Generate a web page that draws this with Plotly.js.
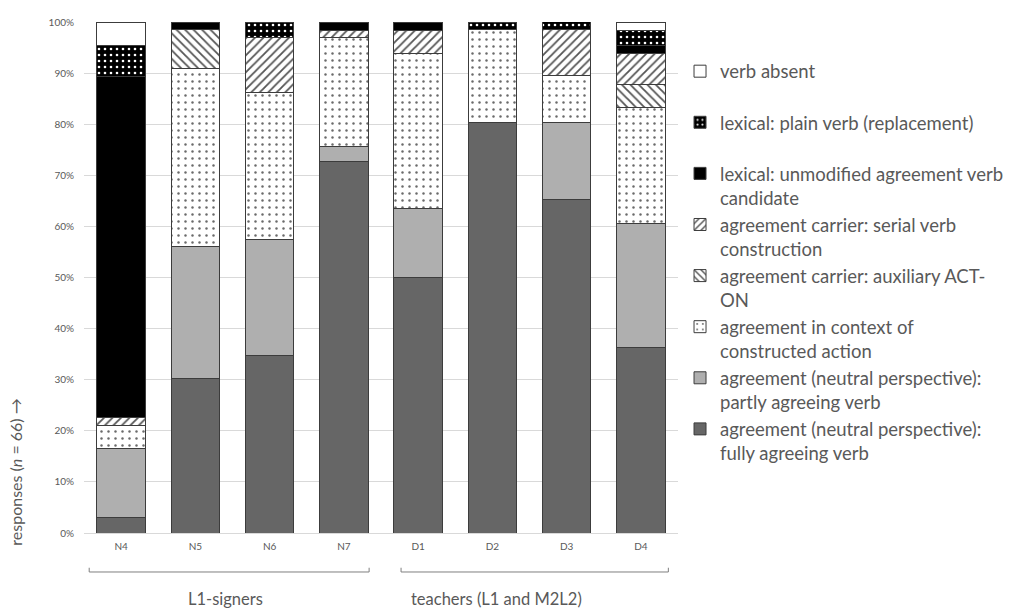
<!DOCTYPE html>
<html>
<head>
<meta charset="utf-8">
<script src="https://cdn.plot.ly/plotly-3.0.1.min.js"></script>
<style>
html,body{margin:0;padding:0;background:#fff;}
#chart{width:1025px;height:608px;}
</style>
</head>
<body>
<div id="chart"></div>
<script>
// categories (informants)
const participants = ["N4", "N5", "N6", "N7", "D1", "D2", "D3", "D4"];

// percentages of responses (n = 66)
const fullyAgreeing   = [3.0, 30.3, 34.8, 72.7, 50.0, 80.3, 65.2, 36.4];
const partlyAgreeing  = [13.6, 25.8, 22.7, 3.0, 13.6, 0, 15.2, 24.2];
const constructedAct  = [4.5, 34.8, 28.8, 21.2, 30.3, 18.2, 9.1, 22.7];
const auxiliaryActOn  = [0, 7.6, 0, 0, 0, 0, 0, 4.5];
const serialVerb      = [1.5, 0, 10.6, 1.5, 4.5, 0, 9.1, 6.1];
const unmodifiedVerb  = [66.7, 1.5, 0, 1.5, 1.5, 0, 0, 1.5];
const plainVerb       = [6.1, 0, 3.0, 0, 0, 1.5, 1.5, 3.0];
const verbAbsent      = [4.5, 0, 0, 0, 0, 0, 0, 1.5];

const seriesNames = [
  "agreement (neutral perspective):<br>fully agreeing verb",
  "agreement (neutral perspective):<br>partly agreeing verb",
  "agreement in context of<br>constructed action",
  "agreement carrier: auxiliary ACT-<br>ON",
  "agreement carrier: serial verb<br>construction",
  "lexical: unmodified agreement verb<br>candidate",
  "lexical: plain verb (replacement)<br>&nbsp;",
  "verb absent<br>&nbsp;"
];

const groupLabels = ["L1-signers", "teachers (L1 and M2L2)"];
const yTitle = "responses (<i>n</i> = 66) →";

const seriesValues = [fullyAgreeing, partlyAgreeing, constructedAct, auxiliaryActOn,
                      serialVerb, unmodifiedVerb, plainVerb, verbAbsent];

const styles = [
  {color: "#666666"},
  {color: "#afafaf"},
  {color: "#ffffff", pattern: {shape: ".", bgcolor: "#ffffff", fgcolor: "#6a6a6a", size: 7, solidity: 0.1, fillmode: "replace"}},
  {color: "#ffffff", pattern: {shape: "\\", bgcolor: "#ffffff", fgcolor: "#555555", size: 6, solidity: 0.3, fillmode: "replace"}},
  {color: "#ffffff", pattern: {shape: "/", bgcolor: "#ffffff", fgcolor: "#555555", size: 6, solidity: 0.3, fillmode: "replace"}},
  {color: "#000000"},
  {color: "#000000", pattern: {shape: ".", bgcolor: "#000000", fgcolor: "#ffffff", size: 6, solidity: 0.15, fillmode: "replace"}},
  {color: "#ffffff"}
];

const traces = seriesValues.map((vals, i) => ({
  type: "bar",
  name: seriesNames[i],
  x: participants,
  y: vals,
  legendgroup: "g" + i,
  marker: Object.assign({line: {color: "#3c3c3c", width: 1}}, styles[i]),
  hoverinfo: "x+y+name"
}));

const FONT = "Lato, 'Open Sans', sans-serif";
const GREY = "#595959";

const layout = {
  width: 1025, height: 608,
  margin: {l: 84, r: 347, t: 22, b: 75, autoexpand: false},
  paper_bgcolor: "#ffffff", plot_bgcolor: "#ffffff",
  barmode: "stack",
  bargap: 0.35,
  font: {family: FONT, color: GREY},
  xaxis: {
    type: "category",
    tickfont: {size: 10, color: GREY},
    ticks: "", showgrid: false, zeroline: false, showline: false,
    ticklabelstandoff: 6,
    fixedrange: true
  },
  yaxis: {
    range: [0, 100], dtick: 10, ticksuffix: "%",
    tickfont: {size: 10, color: GREY},
    gridcolor: "#d9d9d9", gridwidth: 1,
    zeroline: true, zerolinecolor: "#d9d9d9", zerolinewidth: 1,
    showline: false, ticks: "", ticklen: 0, ticklabelstandoff: 9, fixedrange: true
  },
  legend: {
    x: 1.0034, xanchor: "left", y: 0.94, yanchor: "top",
    traceorder: "reversed",
    valign: "top",
    tracegroupgap: 0,
    font: {family: FONT, size: 18.5, color: GREY},
    bgcolor: "rgba(0,0,0,0)"
  },
  annotations: [
    {text: yTitle, xref: "paper", yref: "paper", x: -0.1145, y: 0.12, xanchor: "center", yanchor: "middle",
     textangle: -90, showarrow: false, font: {family: FONT, size: 16, color: GREY}},
    {text: groupLabels[0], xref: "paper", yref: "paper", x: 0.239, y: -0.129, xanchor: "center", yanchor: "middle",
     showarrow: false, font: {family: FONT, size: 16.5, color: GREY}},
    {text: groupLabels[1], xref: "paper", yref: "paper", x: 0.695, y: -0.129, xanchor: "center", yanchor: "middle",
     showarrow: false, font: {family: FONT, size: 16.5, color: GREY}}
  ],
  shapes: []
};

// group brackets under the category axis (in category units)
[[-0.43, 3.34], [3.77, 7.37]].forEach(([a, b]) => {
  const yb = -0.0763, yt = -0.068;
  layout.shapes.push({type: "line", xref: "x", yref: "paper", x0: a, x1: b, y0: yb, y1: yb, line: {color: "#7f7f7f", width: 1}});
  layout.shapes.push({type: "line", xref: "x", yref: "paper", x0: a, x1: a, y0: yb, y1: yt, line: {color: "#7f7f7f", width: 1}});
  layout.shapes.push({type: "line", xref: "x", yref: "paper", x0: b, x1: b, y0: yb, y1: yt, line: {color: "#7f7f7f", width: 1}});
});

Plotly.newPlot("chart", traces, layout, {displayModeBar: false, staticPlot: true});
</script>
</body>
</html>
